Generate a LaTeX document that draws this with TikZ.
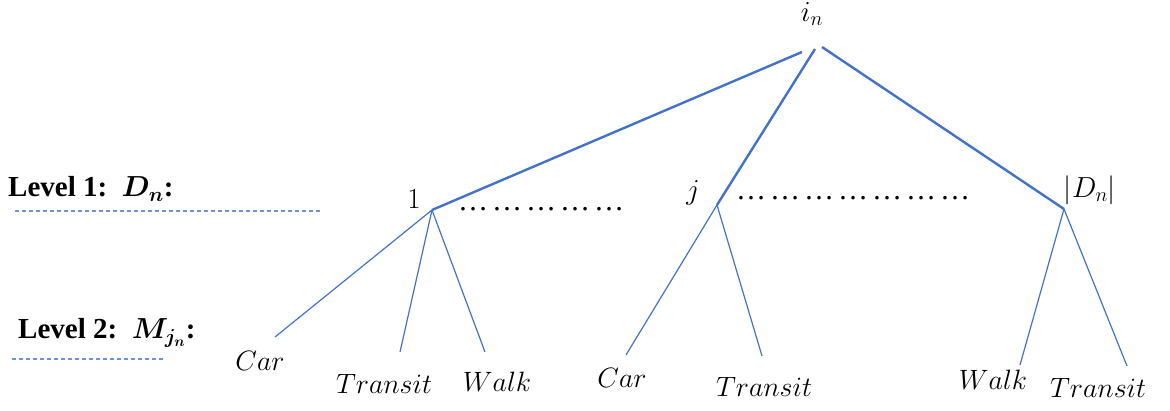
\RequirePackage{fix-cm}
\documentclass[tikz,border=0pt]{standalone}
\usepackage{amsmath}
\usepackage{bm}
\usepackage{fontspec}
\setmainfont{Liberation Serif}
\newcommand{\dotgrp}{\char"2026}
\begin{document}
\begin{tikzpicture}[x=1pt,y=-1pt,
  thickedge/.style={draw=edgeblue,line width=2.4pt},
  thinedge/.style={draw=edgeblue,line width=1.2pt},
  lbl/.style={inner sep=0pt,font=\fontsize{29}{32}\selectfont},
  leaf/.style={inner sep=0pt,font=\fontsize{28}{32}\selectfont},
  levtxt/.style={inner sep=0pt,anchor=west,font=\fontsize{29}{32}\selectfont\bfseries},
  dashln/.style={draw=dashblue,line width=1.1pt,dash pattern=on 4pt off 3pt},
  dotline/.style={inner sep=0pt,anchor=base west,font=\fontsize{30}{32}\selectfont}]
\definecolor{edgeblue}{HTML}{4472C4}
\definecolor{dashblue}{HTML}{6F94D6}
\useasboundingbox (0,0) rectangle (1170,410);
% top
\node[lbl] (top) at (812,14) {$i_n$};
\coordinate (tl) at (802,52);
\coordinate (tm) at (815,49);
\coordinate (tr) at (822,47);
% level 1 nodes
\coordinate (n1) at (432,210);
\coordinate (nj) at (717,205);
\coordinate (nd) at (1064,209);
\node[lbl] (l1) at (414,199) {$1$};
\node[lbl] (lj) at (693,193) {$j$};
\node[lbl] (ld) at (1090,190) {$|D_n|$};
\draw[thickedge] (tl) -- (n1);
\draw[thickedge] (tm) -- (nj);
\draw[thickedge] (tr) -- (nd);
% dots
\node[dotline] (d1) at (458,210) {\dotgrp\hspace{4pt}\dotgrp\hspace{4pt}\dotgrp\hspace{4pt}\dotgrp\hspace{4pt}\dotgrp};
\node[dotline] (d2) at (736,199.5) {\dotgrp\hspace{4pt}\dotgrp\hspace{4pt}\dotgrp\hspace{4pt}\dotgrp\hspace{4pt}\dotgrp\hspace{4pt}\dotgrp\hspace{4pt}\dotgrp};
% leaves ends
\coordinate (e1) at (275,337);
\coordinate (e2) at (400,352);
\coordinate (e3) at (485,352);
\coordinate (e4) at (626,355);
\coordinate (e5) at (762,356);
\coordinate (e6) at (1020,365);
\coordinate (e7) at (1127,366);
\draw[thinedge] (n1) -- (e1);
\draw[thinedge] (n1) -- (e2);
\draw[thinedge] (n1) -- (e3);
\draw[thinedge] (nj) -- (e4);
\draw[thinedge] (nj) -- (e5);
\draw[thinedge] (nd) -- (e6);
\draw[thinedge] (nd) -- (e7);
\node[leaf] (c1) at (260,361) {$Car$};
\node[leaf] (t1) at (384,384) {$Transit$};
\node[leaf] (w1) at (497,382) {$Walk$};
\node[leaf] (c2) at (622,378) {$Car$};
\node[leaf] (t2) at (764,387) {$Transit$};
\node[leaf] (w2) at (993,380) {$Walk$};
\node[leaf] (t3) at (1098,388) {$Transit$};
% levels
\node[levtxt] (lev1) at (8,189) {Level 1:\ \ $\bm{D_n}$:};
\draw[dashln] (15,211) -- (320,211);
\node[levtxt] (lev2) at (18,333) {Level 2:\ \ $\bm{M_{j_n}}$:};
\draw[dashln] (12,359) -- (163,359);
\end{tikzpicture}
\end{document}
